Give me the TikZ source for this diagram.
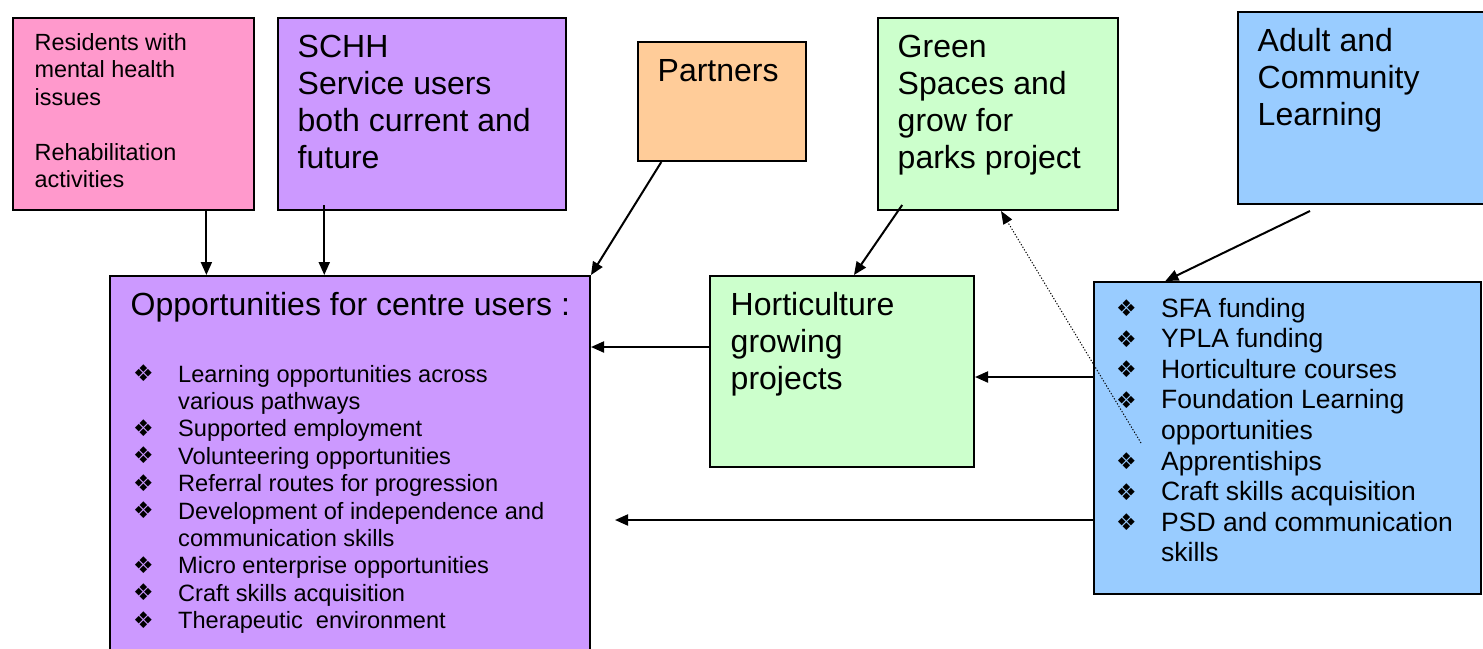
\documentclass[tikz,border=0pt]{standalone}
\usepackage{fontspec}
\setmainfont{Liberation Sans}
\newfontfamily\symfont{DejaVu Sans}
\usetikzlibrary{arrows.meta,calc}
\definecolor{pinkc}{HTML}{FF99CC}
\definecolor{purplec}{HTML}{CC99FF}
\definecolor{orangec}{HTML}{FFCC99}
\definecolor{greenc}{HTML}{CCFFCC}
\definecolor{bluec}{HTML}{99CCFF}
\newcommand\bul{\makebox[45pt][l]{\raisebox{0.5pt}{\symfont\fontsize{23}{23}\selectfont ❖}}}
\newcommand\nobul{\hspace*{45pt}}
\tikzset{
  box/.style={draw=black, line width=2pt, inner sep=0pt, anchor=north west},
  txt/.style={anchor=base west, inner sep=0pt},
  big/.style={font=\fontsize{32}{37}\selectfont},
  arr/.style={line width=2pt, -{Triangle[length=13pt,width=11pt]}},
  dotarr/.style={line width=1pt, dash pattern=on 1.2pt off 1.8pt, -{Triangle[length=13pt,width=10pt]}}
}
\begin{document}
\begin{tikzpicture}[x=1pt,y=-1pt]
\useasboundingbox (0,0) rectangle (1483,648);
\clip (0,0) rectangle (1483,648);
% boxes
\node[box, fill=pinkc, minimum width=241pt, minimum height=192pt] (pink) at (12,17) {};
\node[box, fill=purplec, minimum width=288pt, minimum height=192pt] (schh) at (277,17) {};
\node[box, fill=orangec, minimum width=168pt, minimum height=119pt] (partners) at (637,41) {};
\node[box, fill=greenc, minimum width=240pt, minimum height=192pt] (green) at (877,17) {};
\node[box, fill=bluec, minimum width=252pt, minimum height=192pt] (adult) at (1237,11) {};
\node[box, fill=purplec, minimum width=480pt, minimum height=400pt] (opp) at (109,275) {};
\node[box, fill=greenc, minimum width=264pt, minimum height=191pt] (horti) at (709,275) {};
\node[box, fill=bluec, minimum width=387pt, minimum height=312pt] (blue) at (1093,281) {};
% texts
\node[txt, font=\fontsize{23.4}{27.5}\selectfont] (pinktxt) at (34.5,50) {\vtop{\baselineskip=27.5pt
  \hbox{Residents with}\hbox{mental health}\hbox{issues}\hbox{}\hbox{Rehabilitation}\hbox{activities}}};
\node[txt, big] (schhtxt) at (297.5,57) {\vtop{\baselineskip=37pt
  \hbox{SCHH}\hbox{Service users}\hbox{both current and}\hbox{future}}};
\node[txt, big] (partnerstxt) at (657.5,81) {Partners};
\node[txt, big] (greentxt) at (897.5,57) {\vtop{\baselineskip=37pt
  \hbox{Green}\hbox{Spaces and}\hbox{grow for}\hbox{parks project}}};
\node[txt, big] (adulttxt) at (1257.5,51) {\vtop{\baselineskip=37pt
  \hbox{Adult and}\hbox{Community}\hbox{Learning}}};
\node[txt, big] (opptxt) at (130.5,315) {Opportunities for centre users :};
\node[txt, font=\fontsize{23.6}{27.4}\selectfont] (opplist) at (133,382) {\vtop{\baselineskip=27.4pt
  \hbox{\bul Learning opportunities across}
  \hbox{\nobul various pathways}
  \hbox{\bul Supported employment}
  \hbox{\bul Volunteering opportunities}
  \hbox{\bul Referral routes for progression}
  \hbox{\bul Development of independence and}
  \hbox{\nobul communication skills}
  \hbox{\bul Micro enterprise opportunities}
  \hbox{\bul Craft skills acquisition}
  \hbox{\bul Therapeutic\ \ environment}}};
\node[txt, big] (hortitxt) at (730.5,315) {\vtop{\baselineskip=37pt
  \hbox{Horticulture}\hbox{growing}\hbox{projects}}};
\node[txt, font=\fontsize{26.5}{30.6}\selectfont] (bluelist) at (1116,317) {\vtop{\baselineskip=30.6pt
  \hbox{\bul SFA funding}
  \hbox{\bul YPLA funding}
  \hbox{\bul Horticulture courses}
  \hbox{\bul Foundation Learning}
  \hbox{\nobul opportunities}
  \hbox{\bul Apprentiships}
  \hbox{\bul Craft skills acquisition}
  \hbox{\bul PSD and communication}
  \hbox{\nobul skills}}};
% connectors
\draw[arr] ($(pink.south west)!0.8!(pink.south east)$) coordinate (a1) -- (a1 |- opp.north);
\draw[arr] ($(schh.south west)!0.163!(schh.south east)+(0,-6)$) coordinate (a2) -- (a2 |- opp.north);
\draw[arr] ($(partners.south west)!0.143!(partners.south east)$) -- (opp.north east);
\draw[arr] ($(green.south west)!0.104!(green.south east)+(0,-6)$) -- ($(horti.north west)!0.545!(horti.north east)$);
\coordinate (dotstart) at (1141,443);
\draw[dotarr] (dotstart) -- ($(green.south west)!0.5125!(green.south east)$);
\draw[arr] ($(adult.south west)+(73,6)$) -- ($(blue.north west)!0.186!(blue.north east)$);
\draw[arr] (horti.west |- 0,347) -- (opp.east |- 0,347);
\draw[arr] (blue.west |- 0,377) -- (horti.east |- 0,377);
\draw[arr] (blue.west |- 0,520) -- ($(opp.east |- 0,520)+(24,0)$);
\end{tikzpicture}
\end{document}
